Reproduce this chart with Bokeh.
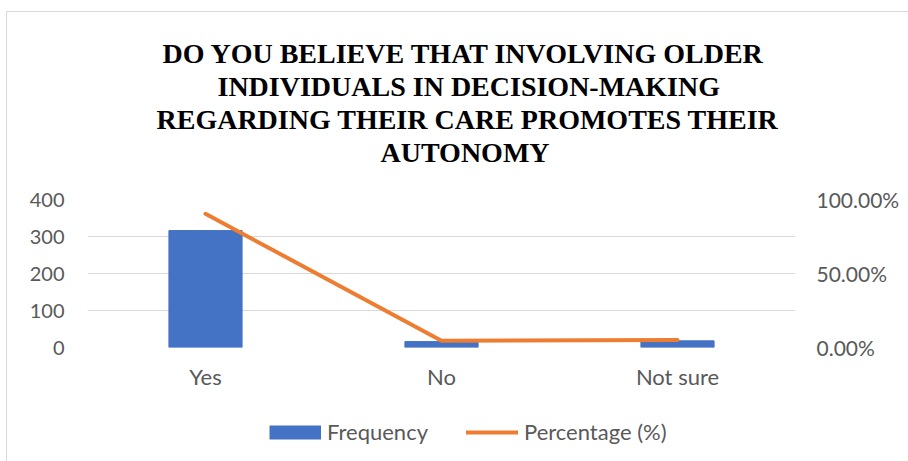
from bokeh.plotting import figure
from bokeh.layouts import column
from bokeh.models import (FactorRange, Range1d, LinearAxis, NumeralTickFormatter,
                          FixedTicker, Legend, LegendItem, Title, ColumnDataSource)
from bokeh.embed import file_html
from bokeh.resources import INLINE

categories = ["Yes", "No", "Not sure"]
frequency = [316, 16, 18]
percentage = [0.903, 0.046, 0.051]
left_ticks = [0, 100, 200, 300, 400]
right_ticks = [0.0, 0.5, 1.0]
title_lines = ["DO YOU BELIEVE THAT INVOLVING OLDER",
               "INDIVIDUALS IN DECISION-MAKING",
               "REGARDING THEIR CARE PROMOTES THEIR",
               "AUTONOMY"]
title_offsets = [75, 130, 69, 293]
series_names = ["Frequency", "Percentage (%)"]

FONT = "Lato"
GRAY = "#595959"
BLUE = "#4472c4"
ORANGE = "#ed7d31"

src = ColumnDataSource(data=dict(cat=categories, freq=frequency, pct=percentage))

p = figure(x_range=FactorRange(*categories), y_range=Range1d(0, 400),
           frame_width=708, frame_height=148, output_backend="svg", toolbar_location=None,
           min_border_left=80, min_border_right=113, min_border_top=187,
           min_border_bottom=53, outline_line_color=None)
p.title = None
# spacer between title block and plot area
p.add_layout(Title(text=" ", text_font_size="20px", standoff=8), "above")
for line_text, off in reversed(list(zip(title_lines, title_offsets))):
    t = Title(text=line_text, align="left", offset=off, text_font="Liberation Serif",
              text_font_size="28px", text_font_style="bold", text_color="black",
              standoff=0)
    p.add_layout(t, "above")

p.extra_y_ranges = {"pct": Range1d(0, 1)}

bars = p.vbar(x="cat", top="freq", width=0.31, color=BLUE, source=src)
line = p.line(x="cat", y="pct", y_range_name="pct", line_color=ORANGE,
              line_width=4, line_cap="round", line_join="round", source=src)

p.yaxis.ticker = FixedTicker(ticks=left_ticks)
p.ygrid.ticker = FixedTicker(ticks=left_ticks)
p.ygrid.grid_line_color = "#d9d9d9"
p.ygrid.grid_line_width = 1
p.xgrid.grid_line_color = None

for ax in [p.yaxis[0], p.xaxis[0]]:
    ax.axis_line_color = None
    ax.major_tick_line_color = None
    ax.minor_tick_line_color = None
    ax.major_label_text_font = FONT
    ax.major_label_text_color = GRAY
p.yaxis.major_label_text_font_size = "20px"
p.xaxis.major_label_text_font_size = "22px"
p.yaxis.major_label_standoff = 17
p.xaxis.major_label_standoff = 9

rax = LinearAxis(y_range_name="pct", ticker=FixedTicker(ticks=right_ticks),
                 formatter=NumeralTickFormatter(format="0.00%"))
rax.axis_line_color = None
rax.major_tick_line_color = None
rax.minor_tick_line_color = None
rax.major_label_text_font = FONT
rax.major_label_text_font_size = "21px"
rax.major_label_text_color = GRAY
rax.major_label_standoff = 15
p.add_layout(rax, "right")

# legend strip below the chart (key renderers are hidden; only their legend swatches show)
lg = figure(width=901, height=61, output_backend="svg", toolbar_location=None,
            x_range=Range1d(0, 1), y_range=Range1d(0, 1),
            x_axis_type=None, y_axis_type=None, min_border=0,
            outline_line_color=None)
lg.grid.visible = False
key_bar = lg.line(x="pct", y="pct", source=src, line_color=BLUE, line_width=14,
                  line_cap="butt", visible=False)
key_line = lg.line(x="pct", y="pct", source=src, line_color=ORANGE, line_width=4,
                   line_cap="round", visible=False)
legend = Legend(items=[LegendItem(label=series_names[0], renderers=[key_bar]),
                       LegendItem(label=series_names[1], renderers=[key_line])],
                orientation="horizontal", location=(182, 16),
                glyph_width=52, glyph_height=26, label_height=26,
                label_standoff=6, spacing=38,
                padding=0, margin=0, border_line_color=None,
                background_fill_alpha=0, inactive_fill_alpha=0,
                label_text_font=FONT,
                label_text_font_size="22px", label_text_color=GRAY)
lg.add_layout(legend, "center")

layout = column(p, lg, spacing=0,
                styles={"border-left": "1px solid #d9d9d9", "border-top": "1px solid #d9d9d9",
                        "margin-left": "6px", "margin-top": "11px"})

open("out.html", "w").write(file_html(layout, INLINE))
